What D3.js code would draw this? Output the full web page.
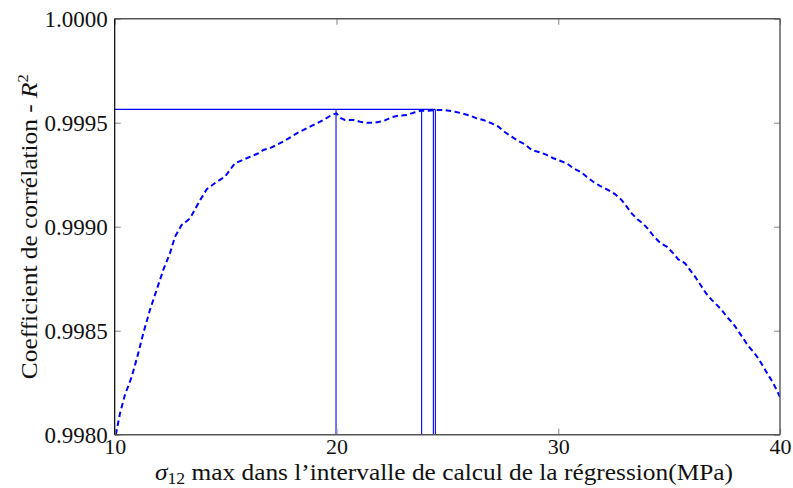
<!DOCTYPE html>
<html>
<head>
<meta charset="utf-8">
<script src="https://cdn.jsdelivr.net/npm/d3@7"></script>
<style>
  html, body { margin: 0; padding: 0; background: #fff; }
  svg { display: block; }
  text { font-family: "Liberation Serif", "DejaVu Serif", serif; fill: #111; }
</style>
</head>
<body>
<svg id="chart" width="793" height="488"></svg>
<script>
// ---- data ----
const sigmaMax = [10.05,10.24,10.46,10.77,11.06,11.29,11.59,11.89,12.19,12.49,12.72,13.02,13.40,13.77,14.15,14.60,14.97,15.42,15.95,16.48,16.70,17.00,17.60,18.21,18.81,19.41,19.78,20.00,20.20,20.38,20.76,21.06,21.36,21.74,22.11,22.49,22.79,23.17,23.54,23.84,24.14,24.52,24.89,25.34,25.65,26.02,26.32,26.62,27.00,27.30,27.60,27.90,28.20,28.50,28.80,29.17,29.48,29.78,30.08,30.38,30.68,31.06,31.28,31.58,31.88,32.26,32.56,32.86,33.09,33.31,33.57,33.84,34.06,34.32,34.59,34.89,35.19,35.41,35.72,35.94,36.17,36.42,36.66,36.92,37.15,37.37,37.60,37.87,38.09,38.34,38.57,38.80,39.02,39.25,39.47,39.70,39.92,40.00];
const r2 = [0.998000,0.998103,0.998191,0.998279,0.998391,0.998488,0.998600,0.998696,0.998792,0.998872,0.998952,0.999008,0.999040,0.999113,0.999180,0.999216,0.999240,0.999305,0.999329,0.999353,0.999369,0.999377,0.999409,0.999449,0.999481,0.999513,0.999537,0.999545,0.999522,0.999513,0.999513,0.999505,0.999500,0.999500,0.999508,0.999526,0.999534,0.999537,0.999550,0.999558,0.999558,0.999561,0.999561,0.999553,0.999545,0.999534,0.999521,0.999513,0.999497,0.999481,0.999454,0.999433,0.999412,0.999396,0.999369,0.999358,0.999345,0.999329,0.999317,0.999305,0.999281,0.999260,0.999240,0.999216,0.999196,0.999176,0.999157,0.999128,0.999096,0.999064,0.999036,0.999013,0.998988,0.998952,0.998923,0.998904,0.998872,0.998843,0.998824,0.998792,0.998760,0.998720,0.998680,0.998648,0.998624,0.998600,0.998567,0.998536,0.998503,0.998463,0.998426,0.998399,0.998367,0.998327,0.998287,0.998247,0.998199,0.998181];
const markerX = [19.98, 23.84, 24.37, 24.46];   // vertical reference lines
const maxR2 = 0.999564;                          // horizontal reference line
const xTicks = [10, 20, 30, 40];
const yTicks = [0.9980, 0.9985, 0.9990, 0.9995, 1.0000];
const xDomain = [10, 40];
const yDomain = [0.9980, 1.0000];

(function () {
// ---- layout ----
const svg = d3.select("#chart");
const L = 114.7, R = 780, T = 18.7, B = 434.7;
const x = d3.scaleLinear().domain(xDomain).range([L, R]);
const y = d3.scaleLinear().domain(yDomain).range([B, T]);

svg.append("clipPath").attr("id", "plotclip")
  .append("rect").attr("x", L).attr("y", T).attr("width", R - L).attr("height", B - T);

const plot = svg.append("g").attr("clip-path", "url(#plotclip)");

// reference lines
plot.append("line")
  .attr("x1", x(xDomain[0])).attr("x2", x(d3.max(markerX)))
  .attr("y1", y(maxR2)).attr("y2", y(maxR2))
  .attr("stroke", "#0000ff").attr("stroke-width", 1.1);
plot.selectAll("line.v").data(markerX).enter().append("line").attr("class", "v")
  .attr("x1", d => x(d)).attr("x2", d => x(d))
  .attr("y1", y(yDomain[0])).attr("y2", y(maxR2))
  .attr("stroke", "#0000ff").attr("stroke-width", 1.1);

// curve
const pts = sigmaMax.map((d, i) => [d, r2[i]]);
plot.append("path").datum(pts)
  .attr("fill", "none").attr("stroke", "#0000ff").attr("stroke-width", 2)
  .attr("stroke-dasharray", "5.5,3.5")
  .attr("d", d3.line().x(d => x(d[0])).y(d => y(d[1])));

// axes (ticks inward)
const ax = svg.append("g");
const gl = ax.append("g").attr("transform", `translate(${L},0)`)
  .call(d3.axisLeft(y).tickValues(yTicks).tickSizeInner(-6).tickSizeOuter(0).tickPadding(7).tickFormat(d3.format(".4f")));
ax.append("g").attr("transform", `translate(${R},0)`)
  .call(d3.axisRight(y).tickValues(yTicks).tickSizeInner(-6).tickSizeOuter(0).tickFormat(""));
const gb = ax.append("g").attr("transform", `translate(0,${B})`)
  .call(d3.axisBottom(x).tickValues(xTicks).tickSizeInner(-6).tickSizeOuter(0).tickPadding(4).tickFormat(d3.format("d")));
ax.append("g").attr("transform", `translate(0,${T})`)
  .call(d3.axisTop(x).tickValues(xTicks).tickSizeInner(-6).tickSizeOuter(0).tickFormat(""));
ax.selectAll(".domain").remove();
ax.selectAll(".tick line").attr("stroke", "#999").attr("stroke-width", 1.2);
gl.selectAll(".tick text").attr("font-size", 23).attr("font-family", "Liberation Serif").attr("fill", "#111");
gb.selectAll(".tick text").attr("font-size", 22).attr("font-family", "Liberation Serif").attr("fill", "#111");

// frame
svg.append("line").attr("x1", L).attr("x2", R).attr("y1", T).attr("y2", T).attr("stroke", "#555").attr("stroke-width", 1.4);
svg.append("line").attr("x1", L).attr("x2", R).attr("y1", B).attr("y2", B).attr("stroke", "#555").attr("stroke-width", 1.4);
svg.append("line").attr("x1", R).attr("x2", R).attr("y1", T).attr("y2", B).attr("stroke", "#555").attr("stroke-width", 1.4);
svg.append("line").attr("x1", L).attr("x2", L).attr("y1", T).attr("y2", B).attr("stroke", "#000").attr("stroke-width", 1.2);

// x label
const xl = svg.append("text").attr("x", 444).attr("y", 480)
  .attr("text-anchor", "middle").attr("font-size", 23)
  .attr("textLength", 578).attr("lengthAdjust", "spacingAndGlyphs");
xl.append("tspan").attr("font-style", "italic").text("σ");
xl.append("tspan").attr("font-size", 16).attr("dy", 4).text("12");
xl.append("tspan").attr("dy", -4).text(" max dans l’intervalle de calcul de la régression(MPa)");

// y label
const yl = svg.append("text").attr("transform", `translate(37,${(T + B) / 2}) rotate(-90)`)
  .attr("text-anchor", "middle").attr("font-size", 23)
  .attr("textLength", 305).attr("lengthAdjust", "spacingAndGlyphs");
yl.append("tspan").text("Coefficient de corrélation - ");
yl.append("tspan").attr("font-style", "italic").text("R");
yl.append("tspan").attr("font-size", 15).attr("dy", -9).text("2");
})();
</script>
</body>
</html>
